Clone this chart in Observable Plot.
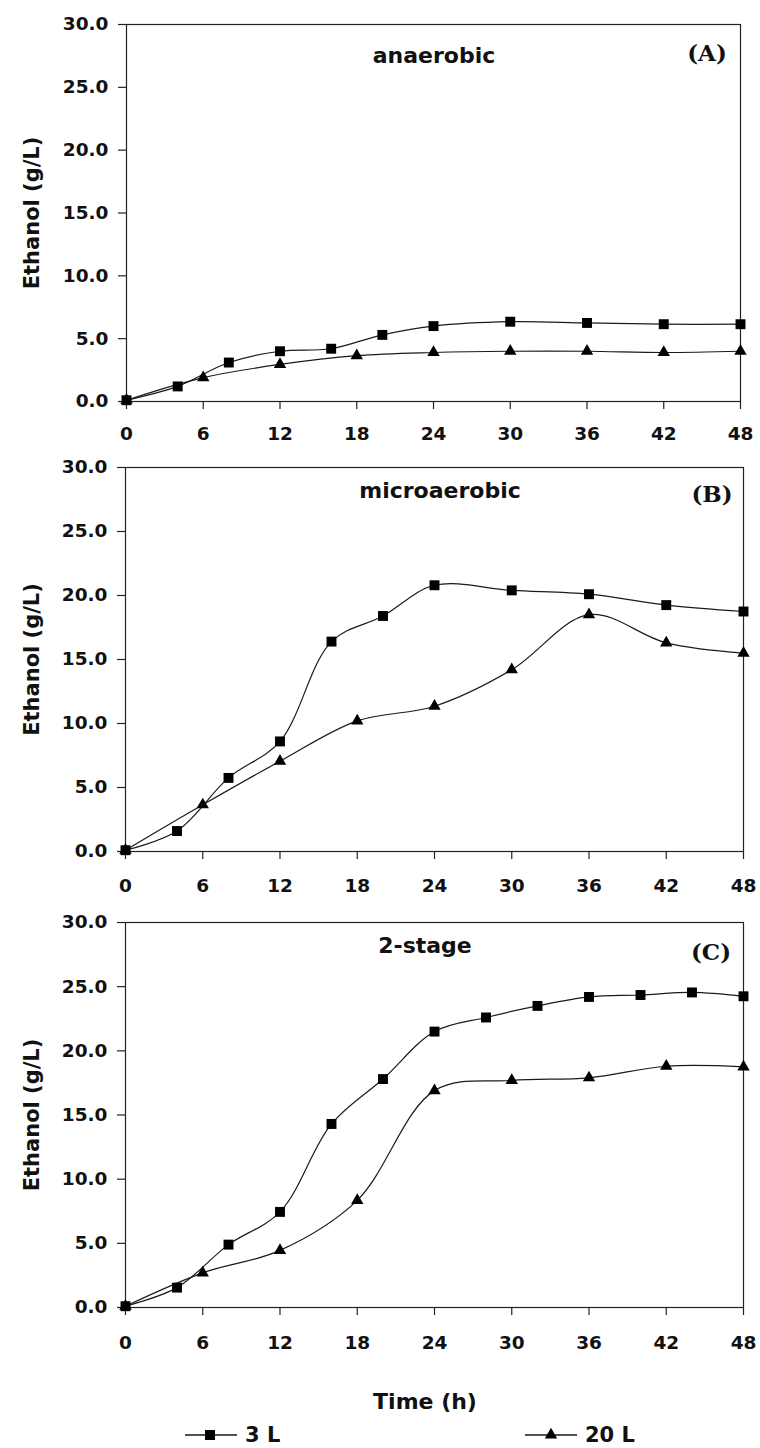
<!DOCTYPE html>
<html><head><meta charset="utf-8">
<script src="https://cdn.jsdelivr.net/npm/d3@7"></script>
<script src="https://cdn.jsdelivr.net/npm/@observablehq/plot@0.6"></script>
<style>
html,body{margin:0;padding:0;background:#fff;}
#wrap{position:relative;width:760px;height:1448px;overflow:hidden;background:#fff;}
#wrap > svg{position:absolute;left:0;}
g[aria-label="y-axis label"] text{font-size:21px;}
</style></head><body><div id="wrap"></div>
<script>
// ---- data ----
const xTicks = [0, 6, 12, 18, 24, 30, 36, 42, 48];
const yTicks = [0, 5, 10, 15, 20, 25, 30];
const panelNames = ["anaerobic", "microaerobic", "2-stage"];
const panelTags = ["(A)", "(B)", "(C)"];
const seriesNames = ["3 L", "20 L"];
const xTitle = "Time (h)";
const yTitle = "Ethanol (g/L)";

const timeA3 = [0, 4, 8, 12, 16, 20, 24, 30, 36, 42, 48];
const ethA3 = [0.1, 1.2, 3.1, 4.0, 4.2, 5.3, 6.0, 6.35, 6.25, 6.15, 6.15];
const timeA20 = [0, 6, 12, 18, 24, 30, 36, 42, 48];
const ethA20 = [0.1, 1.9, 2.95, 3.65, 3.9, 4.0, 4.0, 3.9, 4.0];

const timeB3 = [0, 4, 8, 12, 16, 20, 24, 30, 36, 42, 48];
const ethB3 = [0.1, 1.6, 5.75, 8.6, 16.4, 18.4, 20.8, 20.4, 20.1, 19.25, 18.75];
const timeB20 = [0, 6, 12, 18, 24, 30, 36, 42, 48];
const ethB20 = [0.1, 3.65, 7.05, 10.2, 11.35, 14.2, 18.5, 16.3, 15.5];

const timeC3 = [0, 4, 8, 12, 16, 20, 24, 28, 32, 36, 40, 44, 48];
const ethC3 = [0.1, 1.55, 4.9, 7.45, 14.3, 17.8, 21.5, 22.6, 23.5, 24.2, 24.35, 24.55, 24.25];
const timeC20 = [0, 6, 12, 18, 24, 30, 36, 42, 48];
const ethC20 = [0.1, 2.7, 4.45, 8.35, 16.9, 17.7, 17.9, 18.8, 18.75];

// ---- layout ----
const W = 760, H = 1448;
const layouts = [
  {top: 0,   height: 445, ml: 126, mr: 20, mt: 24, mb: 44,  xpad: 17.5},
  {top: 445, height: 450, ml: 125, mr: 17, mt: 22, mb: 44,  xpad: 19.5},
  {top: 895, height: 553, ml: 125, mr: 17, mt: 27, mb: 141, xpad: 20}
];
const series = [
  [timeA3, ethA3, timeA20, ethA20],
  [timeB3, ethB3, timeB20, ethB20],
  [timeC3, ethC3, timeC20, ethC20]
];
const ink = "#111";

const wrap = document.getElementById("wrap");

function rows(ts, es) { return ts.map((t, i) => ({t, e: es[i]})); }

series.forEach(([t3, e3, t20, e20], i) => {
  const L = layouts[i];
  const r3 = rows(t3, e3), r20 = rows(t20, e20);
  const chart = Plot.plot({
    width: W, height: L.height,
    marginLeft: L.ml, marginRight: L.mr, marginTop: L.mt, marginBottom: L.mb,
    x: {domain: [0, 48]},
    y: {domain: [0, 30]},
    style: {fontFamily: "DejaVu Sans", fontWeight: "bold", fontSize: "18.5px", background: "transparent", color: ink},
    marks: [
      Plot.frame({stroke: "#222", strokeWidth: 1.2}),
      Plot.axisY({ticks: yTicks, tickFormat: d3.format(".1f"), tickSize: 8, tickPadding: 10,
        label: yTitle, labelAnchor: "center", labelArrow: "none", labelOffset: L.ml - 24,
        stroke: "#222", strokeWidth: 1.2, fill: ink}),
      Plot.axisX({ticks: xTicks, tickSize: 8, tickPadding: L.xpad, label: null,
        stroke: "#222", strokeWidth: 1.2, fill: ink}),
      Plot.line(r3, {x: "t", y: "e", curve: "catmull-rom", stroke: "#1a1a1a", strokeWidth: 1.2}),
      Plot.line(r20, {x: "t", y: "e", curve: "catmull-rom", stroke: "#1a1a1a", strokeWidth: 1.2}),
      Plot.dot(r3, {x: "t", y: "e", symbol: "square", r: 5.6, fill: "#000"}),
      Plot.dot(r20, {x: "t", y: "e", symbol: "triangle", r: 4.6, fill: "#000"})
    ]
  });
  chart.style.top = L.top + "px";
  wrap.appendChild(chart);
});

// ---- annotations (titles, tags, x title, legend) ----
const ov = d3.select(wrap).append("svg")
  .attr("width", W).attr("height", H)
  .style("top", "0px").style("pointer-events", "none");

const nameSpots = [[434, 63], [440, 498], [425, 953]];
const tagSpots = [[707, 61], [712, 502], [711, 960]];
panelNames.forEach((n, i) => {
  ov.append("text").attr("x", nameSpots[i][0]).attr("y", nameSpots[i][1])
    .attr("text-anchor", "middle").attr("font-family", "DejaVu Sans").attr("font-weight", "bold")
    .attr("font-size", 22).attr("fill", ink).text(n);
  ov.append("text").attr("x", tagSpots[i][0]).attr("y", tagSpots[i][1])
    .attr("text-anchor", "middle").attr("font-family", "DejaVu Serif").attr("font-weight", "bold")
    .attr("font-size", 23).attr("fill", ink).text(panelTags[i]);
});

ov.append("text").attr("x", 425).attr("y", 1409).attr("text-anchor", "middle")
  .attr("font-family", "DejaVu Sans").attr("font-weight", "bold").attr("font-size", 22)
  .attr("fill", ink).text(xTitle);

const legendSpots = [{x0: 185, x1: 237, cx: 210, tx: 245, sym: d3.symbolSquare, size: 100},
                     {x0: 525, x1: 577, cx: 551, tx: 585, sym: d3.symbolTriangle, size: 66}];
const ly = 1435;
seriesNames.forEach((n, i) => {
  const s = legendSpots[i];
  ov.append("line").attr("x1", s.x0).attr("x2", s.x1).attr("y1", ly).attr("y2", ly)
    .attr("stroke", "#1a1a1a").attr("stroke-width", 1.3);
  ov.append("path").attr("transform", `translate(${s.cx},${ly})`)
    .attr("d", d3.symbol(s.sym, s.size)()).attr("fill", "#000");
  ov.append("text").attr("x", s.tx).attr("y", ly + 7).attr("font-family", "DejaVu Sans")
    .attr("font-weight", "bold").attr("font-size", 21).attr("fill", ink).text(n);
});
</script></body></html>
